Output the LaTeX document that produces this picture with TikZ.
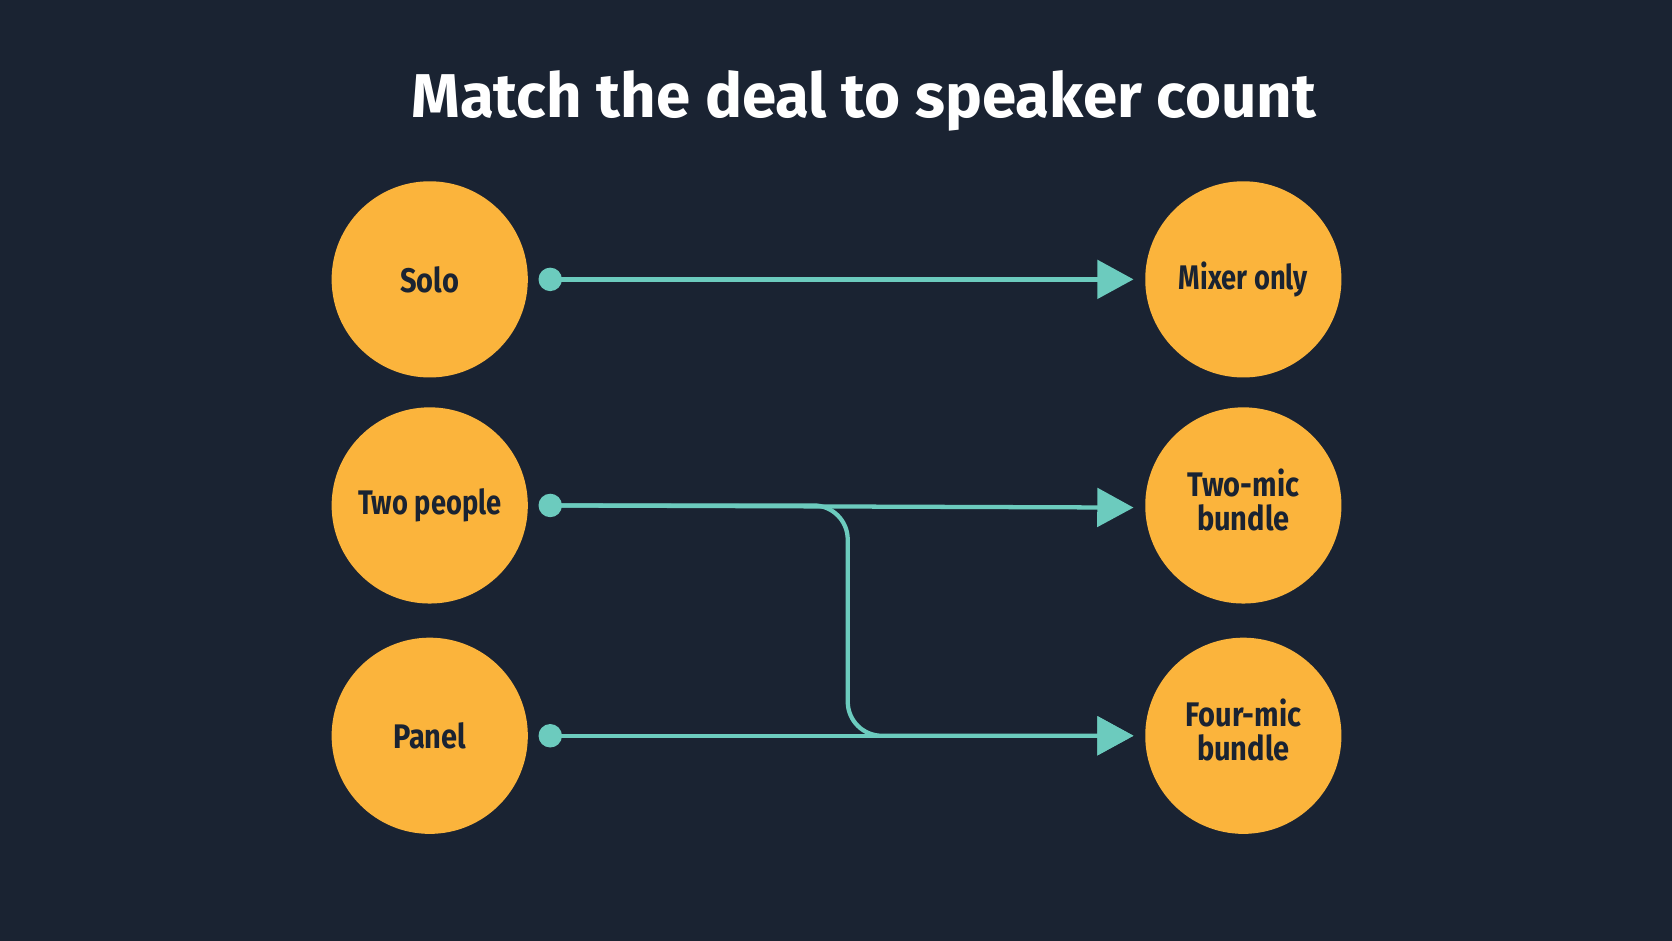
\documentclass[tikz,border=0pt]{standalone}
\usepackage{fontspec}
\setmainfont{Fira Sans}
\usetikzlibrary{arrows.meta}
\definecolor{bg}{HTML}{1A2332}
\definecolor{org}{HTML}{FBB43C}
\definecolor{teal}{HTML}{6CCBBE}
\begin{document}
\begin{tikzpicture}[x=1pt,y=-1pt,
  circ/.style={circle,fill=org,minimum size=184pt,inner sep=0pt,align=center,text=bg,font=\fontsize{32}{36}\selectfont\bfseries},
  conn/.style={draw=teal,line width=4pt,-{Triangle[length=34pt,width=36pt]}},
  dot/.style={circle,fill=teal,minimum size=22pt,inner sep=0pt}]
\fill[bg] (0,0) rectangle (1568,882);
\useasboundingbox (0,0) rectangle (1568,882);
\node[font=\fontsize{58}{64}\selectfont\bfseries,text=white] (title) at (810,95) {Match the deal to speaker count};
\node[circ] (solo) at (403,262) {\scalebox{0.85}[1]{Solo}};
\node[circ] (two) at (403,474) {\scalebox{0.8}[1]{Two people}};
\node[circ] (panel) at (403,690) {\scalebox{0.85}[1]{Panel}};
\node[circ] (mix) at (1166,262) {\scalebox{0.8}[1]{Mixer only}};
\node[circ] (tmic) at (1166,474) {\scalebox{0.85}[1]{\begin{tabular}{c}Two-mic\\[-4pt]bundle\end{tabular}}};
\node[circ] (fmic) at (1166,690) {\scalebox{0.85}[1]{\begin{tabular}{c}Four-mic\\[-4pt]bundle\end{tabular}}};
\node[dot] (d1) at (516,262) {};
\node[dot] (d2) at (516,474) {};
\node[dot] (d3) at (516,690) {};
\coordinate (a1) at (1063,262);
\coordinate (a2) at (1063,476);
\coordinate (a3) at (1063,690);
\coordinate (b1) at (795,474);
\coordinate (b2) at (795,690);
\draw[conn] (d1.center) -- (a1);
\draw[conn] (d2.center) -- (a2);
\draw[conn] (d3.center) -- (a3);
\draw[conn,rounded corners=32pt] (d2.center) -- (b1) -- (b2) -- (a3);
\end{tikzpicture}
\end{document}
